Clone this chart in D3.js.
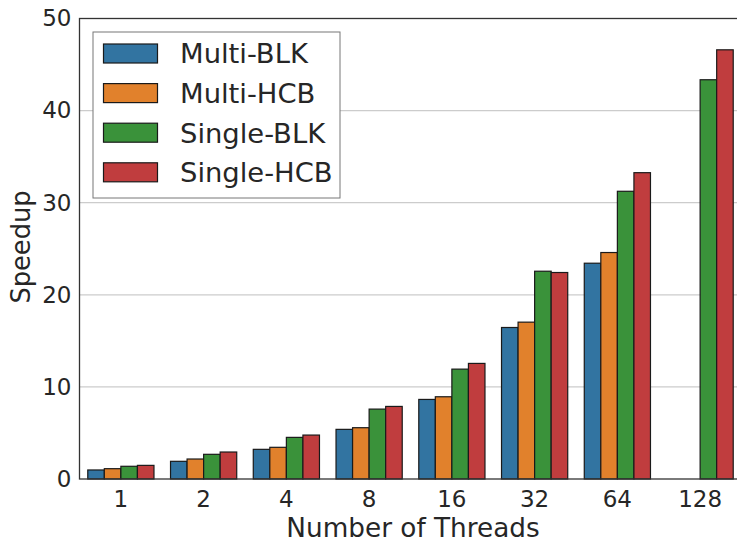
<!DOCTYPE html>
<html><head><meta charset="utf-8">
<script src="https://cdn.jsdelivr.net/npm/d3@7"></script>
<style>body{margin:0;background:#fff}svg{display:block}</style>
</head><body><svg id="c" width="737" height="548"></svg>
<script>
const categories = ["1","2","4","8","16","32","64","128"];
const seriesNames = ["Multi-BLK","Multi-HCB","Single-BLK","Single-HCB"];
const multiBLK  = [0.98, 1.92, 3.22, 5.39, 8.64, 16.45, 23.43, null];
const multiHCB  = [1.12, 2.17, 3.44, 5.57, 8.93, 17.03, 24.59, null];
const singleBLK = [1.38, 2.68, 4.52, 7.59, 11.93, 22.56, 31.24, 43.35];
const singleHCB = [1.48, 2.93, 4.77, 7.88, 12.55, 22.42, 33.26, 46.6];
const yTicks = [0,10,20,30,40,50];
const colors = ["#3274a1","#e1812c","#3a923a","#c03d3e"];
const seriesValues = [multiBLK, multiHCB, singleBLK, singleHCB];

const svg = d3.select("#c");
const L = 79.5, T = 18.5, B = 479, step = 82.75;
const R = L + step*categories.length;
const font = "DejaVu Sans, sans-serif";
const txt = "#262626";

const x = d3.scaleBand().domain(categories).range([L, R]).paddingInner(0.2).paddingOuter(0.1);
const xs = d3.scaleBand().domain(seriesNames).range([0, x.bandwidth()]);
const y = d3.scaleLinear().domain([0,50]).range([B, T]);

// grid
svg.append("g").selectAll("line").data(yTicks.filter(d=>d>0 && d<50)).join("line")
  .attr("x1", L).attr("x2", R).attr("y1", d=>y(d)).attr("y2", d=>y(d))
  .attr("stroke", "#cccccc").attr("stroke-width", 1.3);

// bars
const g = svg.append("g");
seriesNames.forEach((s, si) => {
  g.append("g").selectAll("rect").data(categories.map((c,i)=>({c, v: seriesValues[si][i]})).filter(d=>d.v!=null))
   .join("rect")
   .attr("x", d => x(d.c) + xs(s))
   .attr("width", xs.bandwidth())
   .attr("y", d => y(d.v))
   .attr("height", d => y(0) - y(d.v))
   .attr("fill", colors[si])
   .attr("stroke", "#1a1a1a").attr("stroke-width", 1.2);
});

// spines
svg.append("rect").attr("x", L).attr("y", T).attr("width", R-L).attr("height", B-T)
  .attr("fill","none").attr("stroke","#333").attr("stroke-width",1.3);

// y axis
const yAxis = svg.append("g").attr("transform", `translate(${L},0)`)
  .call(d3.axisLeft(y).tickValues(yTicks).tickSize(0).tickPadding(8));
yAxis.select(".domain").remove();
yAxis.selectAll("text").attr("font-family", font).attr("font-size", 23).attr("fill", txt);

// x axis
const xAxis = svg.append("g").attr("transform", `translate(0,${B})`)
  .call(d3.axisBottom(x).tickSize(0).tickPadding(12));
xAxis.select(".domain").remove();
xAxis.selectAll("text").attr("font-family", font).attr("font-size", 23).attr("fill", txt);

// axis labels
svg.append("text").attr("x", 413).attr("y", 537).attr("text-anchor","middle")
  .attr("font-family", font).attr("font-size", 26.3).attr("fill", txt).text("Number of Threads");
svg.append("text").attr("transform", "translate(30,247) rotate(-90)").attr("text-anchor","middle")
  .attr("font-family", font).attr("font-size", 25.7).attr("fill", txt).text("Speedup");

// legend
const lg = svg.append("g");
lg.append("rect").attr("x", 93).attr("y", 32).attr("width", 247).attr("height", 166)
  .attr("fill","#fff").attr("stroke","#777").attr("stroke-width",1);
seriesNames.forEach((s, i) => {
  const cy = 53.5 + i*39.6;
  lg.append("rect").attr("x", 103.5).attr("y", cy-9.5).attr("width", 54).attr("height", 19)
    .attr("fill", colors[i]).attr("stroke","#1a1a1a").attr("stroke-width",1.2);
  lg.append("text").attr("x", 180).attr("y", cy).attr("dy","0.36em")
    .attr("font-family", font).attr("font-size", 27.4).attr("fill", txt).text(s);
});
</script></body></html>
